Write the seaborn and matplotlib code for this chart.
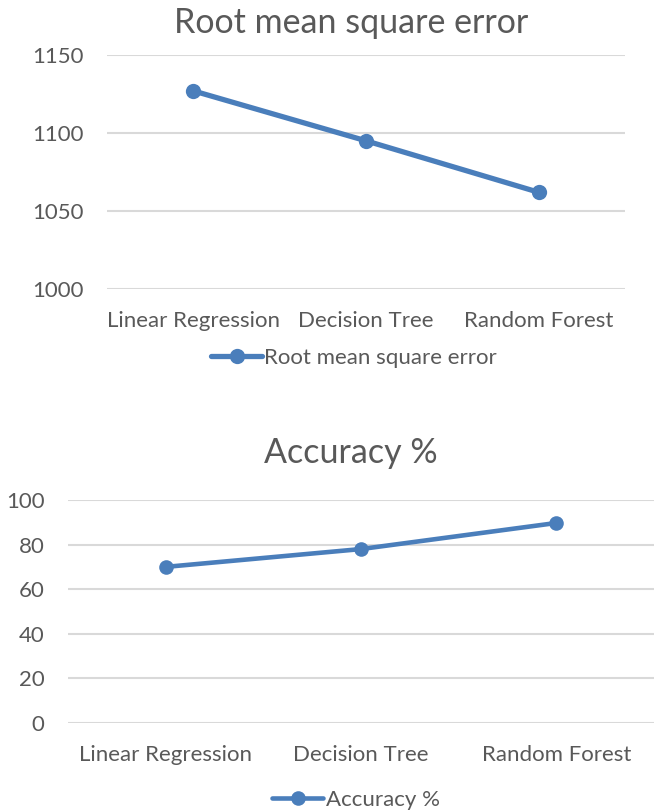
import matplotlib
matplotlib.use("Agg")
import matplotlib.pyplot as plt
import seaborn as sns
import pandas as pd

# data
models = ["Linear Regression", "Decision Tree", "Random Forest"]
rmse = [1127, 1095, 1062]
accuracy = [70.0, 78.0, 89.7]

rmse_ticks = [1000, 1050, 1100, 1150]
acc_ticks = [0, 20, 40, 60, 80, 100]

blue = "#4A7EBB"
grey_text = "#595959"
grid_col = "#D9D9D9"

sns.set_theme(style="white")
plt.rcParams["font.family"] = ["Lato", "DejaVu Sans"]

fig = plt.figure(figsize=(6.54, 8.11), dpi=100)

ax1 = fig.add_axes([107 / 654, 1 - 289 / 811, (625 - 107) / 654, (289 - 55) / 811])
ax2 = fig.add_axes([68 / 654, 1 - 723 / 811, (654 - 68) / 654, (723 - 500) / 811])

df1 = pd.DataFrame({"model": models, "value": rmse})
df2 = pd.DataFrame({"model": models, "value": accuracy})


def style_axis(ax, ticks):
    ax.set_xlim(-0.5, 2.5)
    ax.set_ylim(ticks[0], ticks[-1])
    ax.set_yticks(ticks)
    ax.yaxis.grid(True, color=grid_col, linewidth=1.5)
    ax.set_axisbelow(True)
    for s in ax.spines.values():
        s.set_visible(False)
    ax.tick_params(axis="both", length=0, labelsize=16, colors=grey_text)
    ax.tick_params(axis="x", pad=16)
    ax.tick_params(axis="y", pad=17)
    ax.set_xlabel("")
    ax.set_ylabel("")


sns.lineplot(data=df1, x="model", y="value", ax=ax1, color=blue, linewidth=3.8,
             marker="o", markersize=11, markeredgewidth=0, label="Root mean square error",
             legend=False, sort=False)
style_axis(ax1, rmse_ticks)

sns.lineplot(data=df2, x="model", y="value", ax=ax2, color=blue, linewidth=3.3,
             marker="o", markersize=10.5, markeredgewidth=0, label="Accuracy %",
             legend=False, sort=False)
style_axis(ax2, acc_ticks)

fig.text(351 / 654, 1 - 23 / 811, "Root mean square error", ha="center", va="center",
         fontsize=24.5, color=grey_text)
fig.text(351 / 654, 1 - 453 / 811, "Accuracy %", ha="center", va="center",
         fontsize=24.5, color=grey_text)

for ax, yc, xc in [(ax1, 358, 354), (ax2, 800, 356)]:
    h, l = ax.get_legend_handles_labels()
    fig.legend(h, l, loc="center", bbox_to_anchor=(xc / 654, 1 - yc / 811),
               frameon=False, fontsize=16, labelcolor=grey_text, handlelength=2.3,
               handletextpad=0.1, borderpad=0)

fig.savefig("out.png", dpi=100, facecolor="white")
